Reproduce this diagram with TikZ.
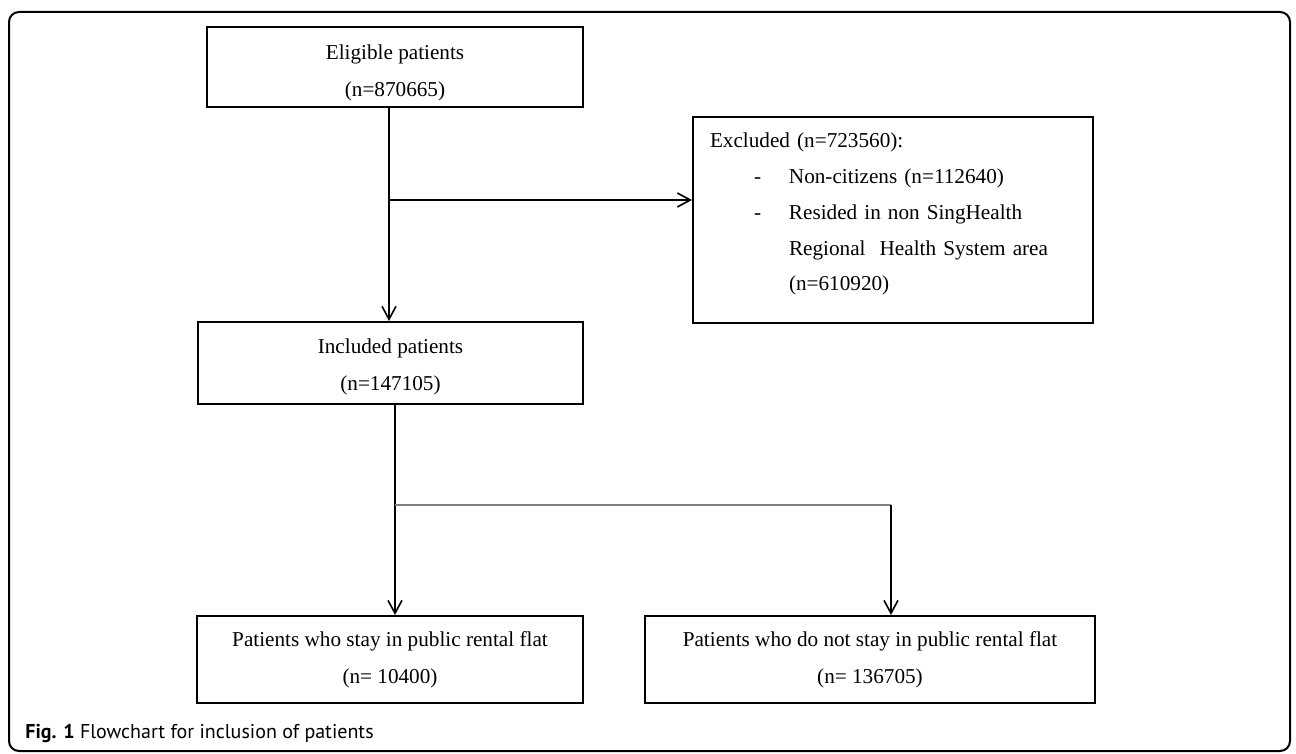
\documentclass[tikz,border=0pt]{standalone}
\usepackage{fontspec}
\setmainfont{Liberation Serif}
\newfontfamily\capfont{PT Sans}
\usetikzlibrary{arrows.meta}
\tikzset{
	box/.style={draw, line width=1pt, align=center, font=\fontsize{10.6}{18.5}\selectfont},
	arr/.style={-{Straight Barb[length=6.5pt,width=7pt]}, line width=0.8pt},
}
\begin{document}
\begin{tikzpicture}[x=0.5pt, y=-0.5pt]
	\useasboundingbox (0,0) rectangle (1296,754);
	\draw[line width=1pt, rounded corners=5pt] (9,12) rectangle (1290,751);

	\node (Eligible) [box, minimum width=188pt, minimum height=40pt] at (395,67) {\rule{0pt}{13pt}Eligible patients\\(n=870665)};
	\node (Included) [box, minimum width=192.5pt, minimum height=41pt] at (390.5,363) {\rule{0pt}{11pt}Included patients\\(n=147105)};

	\node (Excluded) [box, anchor=north west, align=left, text width=183pt, inner xsep=8.5pt, minimum height=103pt,
		font=\fontsize{10.6}{17.85}\selectfont] at (692,116)
		{Excluded (n=723560):\\
		\hspace*{22pt}\makebox[17.5pt][l]{-}Non-citizens (n=112640)\\
		\hspace*{22pt}\makebox[17.5pt][l]{-}Resided in non SingHealth\\
		\hspace*{39.5pt}Regional\ \ Health System area\\
		\hspace*{39.5pt}(n=610920)\rule[-8pt]{0pt}{8pt}};

	\coordinate (Split) at (389,200);
	\draw[arr] (Eligible.south -| Split) -- (Included.north -| Split);
	\draw[arr] (Split) -- (Excluded.west |- Split);

	\node (Public) [box, minimum width=193pt, minimum height=43.5pt] at (390,659.5) {Patients who stay in public rental flat\\(n= 10400)};
	\node (Private) [box, minimum width=225pt, minimum height=43.5pt] at (870,659.5) {Patients who do not stay in public rental flat\\(n= 136705)};

	\coordinate (Fork) at (395,505);
	\coordinate (ForkR) at (891,505);
	\draw[arr] (Included.south -| Fork) -- (Public.north -| Fork);
	\draw[gray, line width=0.6pt] (Fork) -- (ForkR);
	\draw[arr] (ForkR) -- (Private.north -| ForkR);

	\node (Caption) [anchor=base west, inner sep=0pt, font=\capfont\fontsize{10}{12}\selectfont] at (25,738)
		{\textbf{Fig. 1} Flowchart for inclusion of patients};
\end{tikzpicture}
\end{document}
